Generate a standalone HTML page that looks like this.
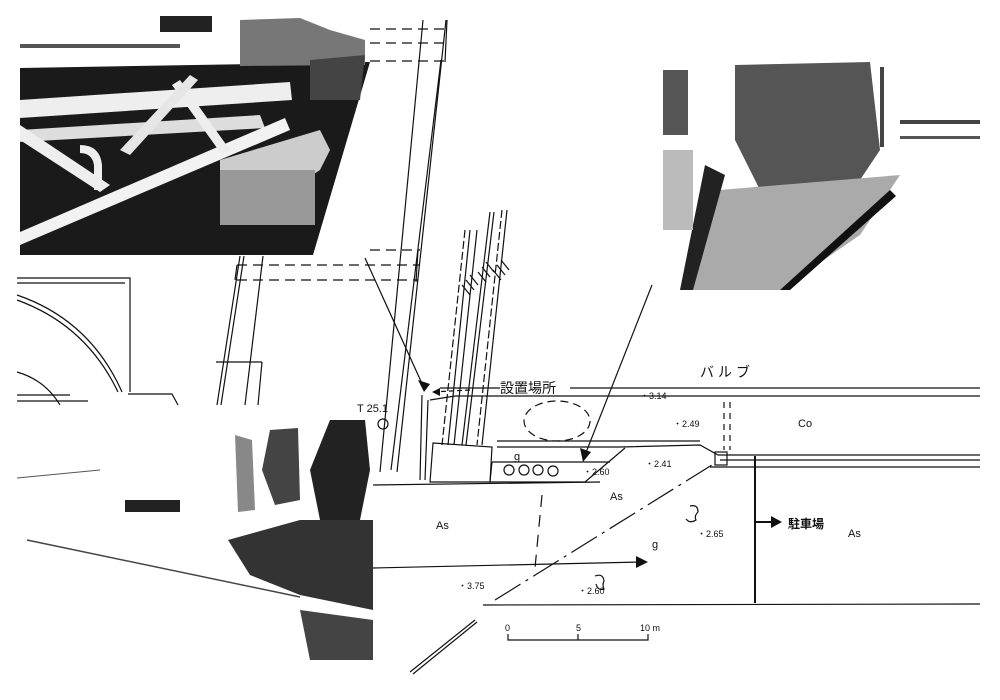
<!DOCTYPE html>
<html><head><meta charset="utf-8"><style>
html,body{margin:0;padding:0;background:#fff;}
svg{display:block;}
text{font-family:"Liberation Sans","Noto Sans CJK JP",sans-serif;fill:#111;}
</style></head><body>
<svg width="1000" height="700" viewBox="0 0 1000 700" xmlns="http://www.w3.org/2000/svg">
<rect width="1000" height="700" fill="#fff"/>
<g stroke="#111" fill="none" stroke-width="1.2">
 <polyline points="17,278 130,278 130,392"/>
 <line x1="17" y1="283" x2="125" y2="283"/>
 <path d="M17,295 Q90,320 122,392"/>
 <path d="M17,300 Q86,325 118,392"/>
 <path d="M17,372 Q45,380 60,405"/>
 <line x1="17" y1="395" x2="70" y2="395"/>
 <line x1="17" y1="401" x2="88" y2="401"/>
 <polyline points="128,394 172,394 178,405"/>
 <line x1="240" y1="256" x2="217" y2="405"/><line x1="244" y1="256" x2="221" y2="405"/>
 <line x1="263" y1="256" x2="245" y2="405"/>
 <line x1="216" y1="362" x2="262" y2="362"/><line x1="262" y1="362" x2="258" y2="405"/>
 <g stroke-dasharray="10,6">
  <line x1="370" y1="29" x2="447" y2="29"/><line x1="370" y1="43" x2="447" y2="43"/><line x1="370" y1="61" x2="445" y2="61"/>
  <line x1="370" y1="250" x2="420" y2="250"/><line x1="237" y1="265" x2="420" y2="265"/><line x1="237" y1="280" x2="418" y2="280"/>
 </g>
 <line x1="237" y1="265" x2="235" y2="280"/><line x1="418" y1="250" x2="416" y2="282"/>
 <line x1="423" y1="20" x2="380" y2="472"/>
 <line x1="446" y1="20" x2="397" y2="472"/>
 <line x1="441" y1="60" x2="391" y2="470"/>
 <line x1="447" y1="20" x2="445" y2="62"/>
 <line x1="422" y1="395" x2="420" y2="480"/><line x1="428" y1="400" x2="425" y2="480"/>
 <line x1="465" y1="230" x2="442" y2="445" stroke-dasharray="8,3"/>
 <line x1="470" y1="230" x2="448" y2="445"/>
 <line x1="477" y1="230" x2="454" y2="445"/>
 <line x1="490" y1="212" x2="462" y2="445"/>
 <line x1="494" y1="212" x2="466" y2="445"/>
 <line x1="502" y1="210" x2="477" y2="445" stroke-dasharray="8,3"/>
 <line x1="507" y1="210" x2="482" y2="445"/>
 <path d="M462,285 l8,10 M466,280 l8,10 M470,275 l8,10 M478,272 l8,10 M482,267 l8,10 M486,262 l8,10 M493,270 l8,10 M497,265 l8,10 M501,260 l8,10"/>
 <line x1="440" y1="388" x2="500" y2="388"/>
 <line x1="570" y1="388" x2="980" y2="388"/>
 <line x1="430" y1="400" x2="455" y2="396"/><line x1="455" y1="396" x2="980" y2="396"/>
 <ellipse cx="557" cy="421" rx="33" ry="20" stroke-dasharray="8,5"/>
 <line x1="497" y1="441" x2="700" y2="441"/>
 <polyline points="497,447 620,447 700,445 718,455 980,455"/>
 <line x1="720" y1="460" x2="980" y2="460"/>
 <line x1="710" y1="467" x2="980" y2="467"/>
 <rect x="715" y="452" width="12" height="13"/>
 <line x1="724" y1="402" x2="724" y2="450" stroke-dasharray="6,5"/><line x1="730" y1="402" x2="730" y2="450" stroke-dasharray="6,5"/>
 <polygon points="433,443 492,447 490,482 430,482"/>
 <polyline points="492,462 610,462"/>
 <polyline points="492,462 490,482 585,482 625,448"/>
 <line x1="373" y1="485" x2="600" y2="482"/>
 <circle cx="509" cy="470" r="5"/><circle cx="524" cy="470" r="5"/><circle cx="538" cy="470" r="5"/><circle cx="553" cy="471" r="5"/>
 <line x1="495" y1="600" x2="712" y2="465" stroke-dasharray="30,6,3,6"/>
 <line x1="410" y1="672" x2="475" y2="620"/><line x1="413" y1="674" x2="477" y2="622"/>
 <line x1="542" y1="495" x2="535" y2="568" stroke-dasharray="12,8"/>
 <line x1="483" y1="605" x2="980" y2="604"/>
 <line x1="755" y1="456" x2="755" y2="603" stroke-width="2"/>
 <line x1="755" y1="522" x2="772" y2="522" stroke-width="2"/>
 <line x1="373" y1="568" x2="640" y2="562"/>
 <line x1="365" y1="258" x2="424" y2="388"/>
 <line x1="652" y1="285" x2="585" y2="455"/>
 <line x1="470" y1="390" x2="432" y2="392" stroke-dasharray="5,3"/>
 <polyline points="508,634 508,640 648,640 648,634"/><line x1="578" y1="634" x2="578" y2="640"/>
 <circle cx="383" cy="424" r="5"/>
 <path d="M690,506 q8,-2 8,6 q-4,4 -2,8 q-6,4 -10,-1"/>
 <path d="M595,576 q8,-3 9,5 q-2,4 0,8 q-6,2 -8,-5"/>
</g>
<g fill="#111">
 <polygon points="424,392 418,380 430,384"/>
 <polygon points="583,462 580,448 591,452"/>
 <polygon points="432,392 440,388 440,396"/>
 <polygon points="648,562 636,556 636,568"/>
 <polygon points="782,522 771,516 771,528"/>
</g>
<!-- Top-left photo -->
<g>
 <polygon points="20,68 370,62 313,255 20,255" fill="#1a1a1a"/>
 <rect x="160" y="16" width="52" height="16" fill="#222"/>
 <rect x="20" y="44" width="160" height="4" fill="#555"/>
 <polygon points="240,20 300,18 330,30 365,40 365,65 240,66" fill="#777"/>
 <polygon points="310,60 365,55 360,100 310,100" fill="#444"/>
 <polygon points="20,100 290,82 292,100 20,118" fill="#eee"/>
 <polygon points="20,130 260,115 265,128 20,142" fill="#ddd"/>
 <polygon points="20,232 285,118 290,130 20,245" fill="#f2f2f2"/>
 <polygon points="20,125 110,185 100,192 20,140" fill="#eee"/>
 <polygon points="180,80 230,150 222,155 172,85" fill="#eee"/>
 <polygon points="120,150 190,75 198,80 130,155" fill="#e6e6e6"/>
 <polygon points="220,160 320,130 330,150 320,170 305,180 220,180" fill="#ccc"/>
 <rect x="220" y="170" width="95" height="55" fill="#999"/>
 <path d="M80,145 q20,0 22,20 l0,25 l-8,0 l0,-25 q-2,-12 -14,-12z" fill="#eee"/>
</g>
<!-- Top-right photo -->
<g>
 <rect x="663" y="70" width="25" height="65" fill="#555"/>
 <polygon points="735,65 870,62 880,150 860,180 760,190 735,140" fill="#555"/>
 <polygon points="720,190 900,175 860,235 780,290 690,290" fill="#aaa"/>
 <polygon points="705,165 725,175 693,290 680,290" fill="#222"/>
 <polygon points="890,190 896,196 790,290 780,290" fill="#111"/>
 <rect x="663" y="150" width="30" height="80" fill="#bbb"/>
 <rect x="880" y="67" width="4" height="80" fill="#444"/>
 <rect x="900" y="120" width="80" height="4" fill="#444"/>
 <rect x="900" y="136" width="80" height="3" fill="#555"/>
</g>
<!-- Bottom-left photo -->
<g>
 <polygon points="330,420 365,420 370,470 360,520 320,520 310,470" fill="#222"/>
 <polygon points="270,430 298,428 300,500 275,505 262,470" fill="#444"/>
 <polygon points="235,435 252,440 255,510 238,512" fill="#888"/>
 <polygon points="228,540 300,520 373,520 373,610 300,595 250,575" fill="#333"/>
 <polygon points="300,610 373,620 373,660 310,660" fill="#444"/>
 <rect x="125" y="500" width="55" height="12" fill="#222"/>
 <line x1="27" y1="540" x2="300" y2="597" stroke="#444" stroke-width="1.5"/>
 <line x1="17" y1="478" x2="100" y2="470" stroke="#555"/>
</g>
<text x="500" y="393" font-size="14">設置場所</text>
<text x="700" y="377" font-size="14" letter-spacing="4">バルブ</text>
<text x="640" y="399" font-size="9">・3.14</text>
<text x="673" y="427" font-size="9">・2.49</text>
<text x="645" y="467" font-size="9">・2.41</text>
<text x="583" y="475" font-size="9">・2.60</text>
<text x="697" y="537" font-size="9">・2.65</text>
<text x="458" y="589" font-size="9">・3.75</text>
<text x="578" y="594" font-size="9">・2.60</text>
<text x="798" y="427" font-size="11">Co</text>
<text x="436" y="529" font-size="11">As</text>
<text x="610" y="500" font-size="11">As</text>
<text x="848" y="537" font-size="11">As</text>
<text x="652" y="548" font-size="11">g</text>
<text x="514" y="460" font-size="11">g</text>
<text x="788" y="528" font-size="12" font-weight="bold">駐車場</text>
<text x="357" y="412" font-size="11">T 25.1</text>
<text x="505" y="631" font-size="9">0</text>
<text x="576" y="631" font-size="9">5</text>
<text x="640" y="631" font-size="9">10 m</text>
</svg>
</body></html>
